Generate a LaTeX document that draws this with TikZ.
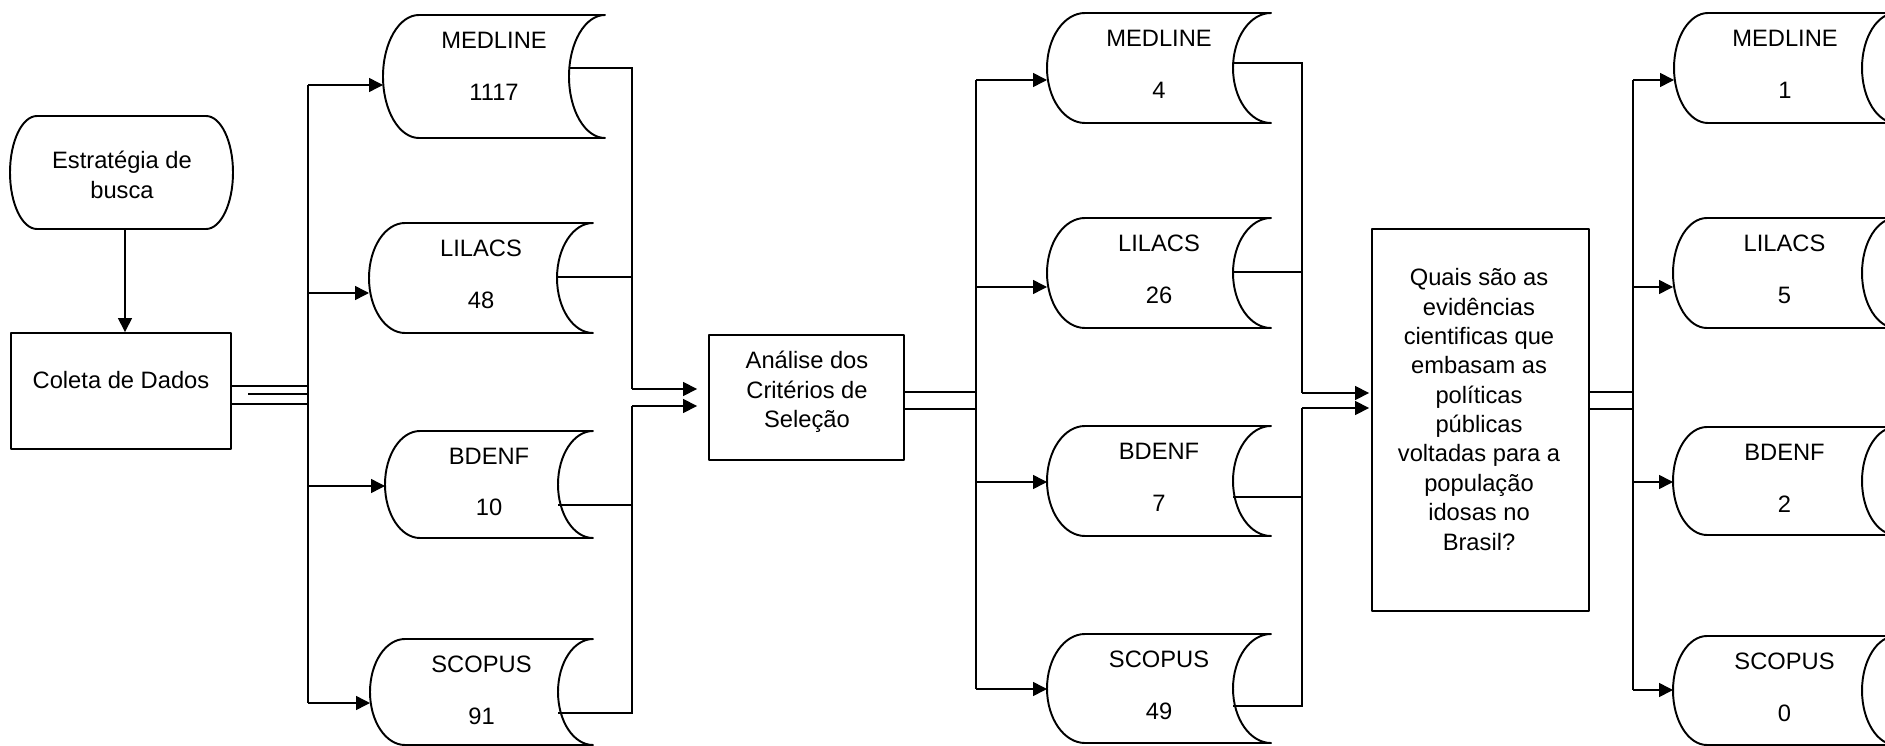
\documentclass[tikz,border=0pt]{standalone}
\usepackage{fontspec}
\setmainfont{Liberation Sans}
\usetikzlibrary{arrows.meta,calc}
\tikzset{
  shp/.style={line width=1.1pt, line join=round},
  ln/.style={line width=0.85pt},
  arr/.style={line width=0.85pt, -{Triangle[length=0.28cm,width=0.28cm]}},
  txt/.style={font=\fontsize{13.5pt}{16.7pt}\selectfont, align=center, inner sep=0pt},
  boxst/.style={shp, draw, inner sep=0pt},
}
% name, L, R, T, B, d, title, number
\newcommand\dbshape[8]{%
  \pgfmathsetmacro\dbM{(#4+#5)/2}%
  \pgfmathsetmacro\dbH{(#5-#4)/2*0.5523}%
  \pgfmathsetmacro\dbK{#6*0.5523}%
  \draw[shp] ({#2+#6},#4) .. controls ({#2+#6-\dbK},#4) and (#2,{\dbM-\dbH}) .. (#2,\dbM)
     .. controls (#2,{\dbM+\dbH}) and ({#2+#6-\dbK},#5) .. ({#2+#6},#5) -- (#3,#5)
     .. controls ({#3-\dbK},#5) and ({#3-#6},{\dbM+\dbH}) .. ({#3-#6},\dbM)
     .. controls ({#3-#6},{\dbM-\dbH}) and ({#3-\dbK},#4) .. (#3,#4) -- cycle;
  \node[txt] (#1) at ({(#2+#3)/2},{#4+51}) {#7\\[12.8pt]#8};
  \coordinate (#1-L) at (#2,\dbM);
  \coordinate (#1-R) at ({#3-#6},\dbM);
}
\begin{document}
\begin{tikzpicture}[x=0.02cm,y=-0.02cm]
\clip (0,0) rectangle (1885,746);
\fill[white] (0,0) rectangle (1885,746);

% Estrategia de busca (terminator)
\draw[shp] (37,116) -- (206,116) .. controls (220.9,116) and (233,141.3) .. (233,172.5)
  .. controls (233,203.7) and (220.9,229) .. (206,229) -- (37,229)
  .. controls (22.1,229) and (10,203.7) .. (10,172.5)
  .. controls (10,141.3) and (22.1,116) .. (37,116) -- cycle;
\node[txt] (estr) at (122,175) {Estratégia de\\busca};
\coordinate (estrB) at (125,229);

% Coleta de Dados
\node[boxst, minimum width=4.4cm, minimum height=2.32cm] (coleta) at (121,391) {};
\node[txt] (coletat) at (121,380) {Coleta de Dados};
\draw[arr] (estrB) -- (coleta.north -| estrB);

% Analise
\node[boxst, minimum width=3.9cm, minimum height=2.5cm] (analise) at (806.5,397.5) {};
\node[txt] (analiset) at (807,392) {Análise dos\\Critérios de\\Seleção};

% Quais
\node[boxst, minimum width=4.34cm, minimum height=7.64cm] (quais) at (1480.5,420) {};
\node[txt] (quaist) at (1479,409.5) {Quais são as\\evidências\\cientificas que\\embasam as\\políticas\\públicas\\voltadas para a\\população\\idosas no\\Brasil?};

% column 1
\dbshape{m1}{383}{605}{15}{138}{36}{MEDLINE}{1117}
\dbshape{l1}{369}{593}{223}{333}{36}{LILACS}{48}
\dbshape{b1}{385}{593}{431}{538}{35}{BDENF}{10}
\dbshape{s1}{370}{593}{639}{745}{35}{SCOPUS}{91}

% column 2
\dbshape{m2}{1047}{1271}{13}{123}{38}{MEDLINE}{4}
\dbshape{l2}{1047}{1271}{218}{328}{38}{LILACS}{26}
\dbshape{b2}{1047}{1271}{426}{536}{38}{BDENF}{7}
\dbshape{s2}{1047}{1271}{634}{743}{38}{SCOPUS}{49}

% column 3
\dbshape{m3}{1674}{1896}{13}{123}{34}{MEDLINE}{1}
\dbshape{l3}{1673}{1896}{218}{328}{34}{LILACS}{5}
\dbshape{b3}{1673}{1896}{427}{535}{34}{BDENF}{2}
\dbshape{s3}{1673}{1896}{636}{745}{34}{SCOPUS}{0}

% Coleta -> trunk 1
\coordinate (t1a) at (308,85);
\coordinate (t1b) at (308,703);
\draw[ln] (coleta.east |- 0,386) -- (308,386);
\draw[ln] (coleta.east |- 0,404) -- (308,404);
\draw[ln] (248,394) -- (308,394);
\draw[ln] (t1a) -- (t1b);
\foreach \n/\y in {m1/85, l1/293, b1/486, s1/703}
  \draw[arr] (308,\y) -- (\n-L |- 0,\y);

% column 1 -> Analise
\coordinate (c1a) at (632,389);
\coordinate (c1b) at (632,406);
\draw[ln] (m1-R |- 0,68) -| (c1a);
\draw[ln] (l1-R |- 0,277) -- (632,277);
\draw[ln] (s1-R |- 0,713) -| (c1b);
\draw[ln] (b1-R |- 0,505) -- (632,505);
\draw[arr, shorten >=0.22cm] (c1a) -- (analise.west |- c1a);
\draw[arr, shorten >=0.22cm] (c1b) -- (analise.west |- c1b);

% Analise -> trunk 2
\coordinate (t2a) at (976,80);
\coordinate (t2b) at (976,689);
\draw[ln] (analise.east |- 0,392) -- (976,392);
\draw[ln] (analise.east |- 0,409) -- (976,409);
\draw[ln] (t2a) -- (t2b);
\foreach \n/\y in {m2/80, l2/287, b2/482, s2/689}
  \draw[arr] (976,\y) -- (\n-L |- 0,\y);

% column 2 -> Quais
\coordinate (c2a) at (1302,393);
\coordinate (c2b) at (1302,408);
\draw[ln] (m2-R |- 0,63) -| (c2a);
\draw[ln] (l2-R |- 0,272) -- (1302,272);
\draw[ln] (s2-R |- 0,706) -| (c2b);
\draw[ln] (b2-R |- 0,497) -- (1302,497);
\draw[arr, shorten >=0.04cm] (c2a) -- (quais.west |- c2a);
\draw[arr, shorten >=0.04cm] (c2b) -- (quais.west |- c2b);

% Quais -> trunk 3
\coordinate (t3a) at (1633,80);
\coordinate (t3b) at (1633,690);
\draw[ln] (quais.east |- 0,392) -- (1633,392);
\draw[ln] (quais.east |- 0,409) -- (1633,409);
\draw[ln] (t3a) -- (t3b);
\foreach \n/\y in {m3/80, l3/287, b3/482, s3/690}
  \draw[arr] (1633,\y) -- (\n-L |- 0,\y);
\end{tikzpicture}
\end{document}
